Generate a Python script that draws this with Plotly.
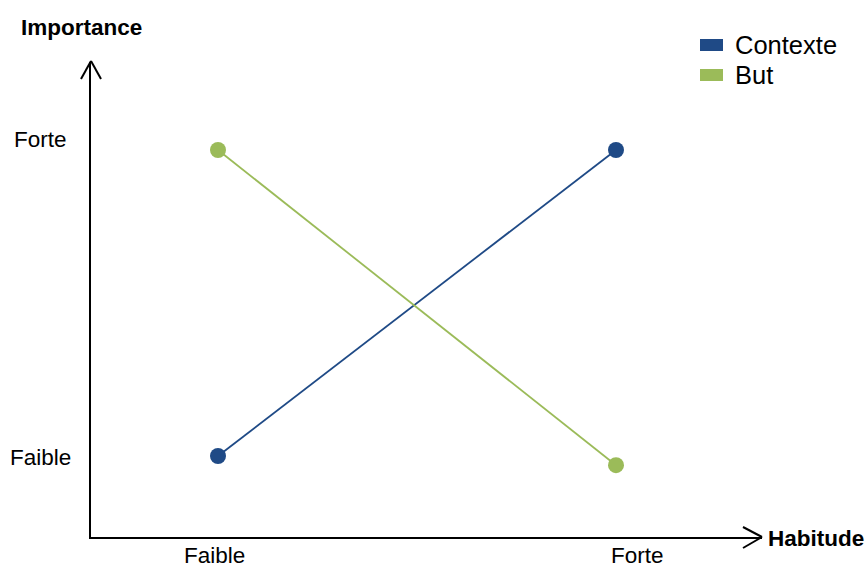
import plotly.graph_objects as go

# Data
habitude_levels = ["Faible", "Forte"]
importance_levels = ["Faible", "Forte"]
series_names = ["Contexte", "But"]
contexte = [1.0, 2.0]
but = [2.0, 0.97]
series_colors = ["#1F4A86", "#9BBB59"]

W, H = 866, 565
L, R, T, B = 91, 762, 62, 537  # plot area in pixels


def px(x):
    return (x - L) / (R - L)


def py(y):
    return (B - y) / (B - T)


fig = go.Figure()
for name, values, color in zip(series_names, [contexte, but], series_colors):
    fig.add_trace(go.Scatter(
        x=[0, 1], y=values, mode="lines+markers", name=name,
        line=dict(color=color, width=1.8),
        marker=dict(color=color, size=16),
        showlegend=False,
    ))

font = "Liberation Sans, Arial, sans-serif"
annotations = []
shapes = []

# Axis arrow heads
for (x0, y0, x1, y1) in [(81, 79, 91, 61), (101, 79, 91, 61),
                         (743, 527, 762, 537), (743, 548, 762, 537)]:
    shapes.append(dict(type="line", xref="paper", yref="paper",
                       x0=px(x0), y0=py(y0), x1=px(x1), y1=py(y1),
                       line=dict(color="black", width=2)))

# Axis titles
annotations.append(dict(text="<b>Importance</b>", x=px(81), y=py(27),
                        xref="paper", yref="paper", showarrow=False,
                        xanchor="center", yanchor="middle",
                        font=dict(size=22.5, color="black", family=font)))
annotations.append(dict(text="<b>Habitude</b>", x=px(766), y=py(538),
                        xref="paper", yref="paper", showarrow=False,
                        xanchor="left", yanchor="middle",
                        font=dict(size=22.5, color="black", family=font)))

# Category labels along the axes
for label, ypix in zip(importance_levels, [457, 139]):
    annotations.append(dict(text=label, x=px(40), y=py(ypix),
                            xref="paper", yref="paper", showarrow=False,
                            xanchor="center", yanchor="middle",
                            font=dict(size=22.5, color="black", family=font)))
for label, xpix in zip(habitude_levels, [214, 637]):
    annotations.append(dict(text=label, x=px(xpix), y=py(555),
                            xref="paper", yref="paper", showarrow=False,
                            xanchor="center", yanchor="middle",
                            font=dict(size=22.5, color="black", family=font)))

# Legend
for name, color, ypix in zip(series_names, series_colors, [45, 75]):
    shapes.append(dict(type="rect", xref="paper", yref="paper",
                       x0=px(700), x1=px(723), y0=py(ypix - 6), y1=py(ypix + 6),
                       fillcolor=color, line=dict(width=0)))
    annotations.append(dict(text=name, x=px(733), y=py(ypix),
                            xref="paper", yref="paper", showarrow=False,
                            xanchor="left", yanchor="middle",
                            font=dict(size=25.5, color="black", family=font)))

fig.update_layout(
    width=W, height=H,
    margin=dict(l=L, r=W - R, t=T, b=H - B, pad=0),
    paper_bgcolor="white", plot_bgcolor="white",
    xaxis=dict(range=[(L - 218) / 398, 1 + (R - 616) / 398],
               showgrid=False, zeroline=False, showticklabels=False,
               ticks="", showline=True, linecolor="black", linewidth=2),
    yaxis=dict(range=[1 - (B - 456) / 306, 2 + (150 - T) / 306],
               showgrid=False, zeroline=False, showticklabels=False,
               ticks="", showline=True, linecolor="black", linewidth=2),
    annotations=annotations,
    shapes=shapes,
    showlegend=False,
)

fig.write_html("out.html")
